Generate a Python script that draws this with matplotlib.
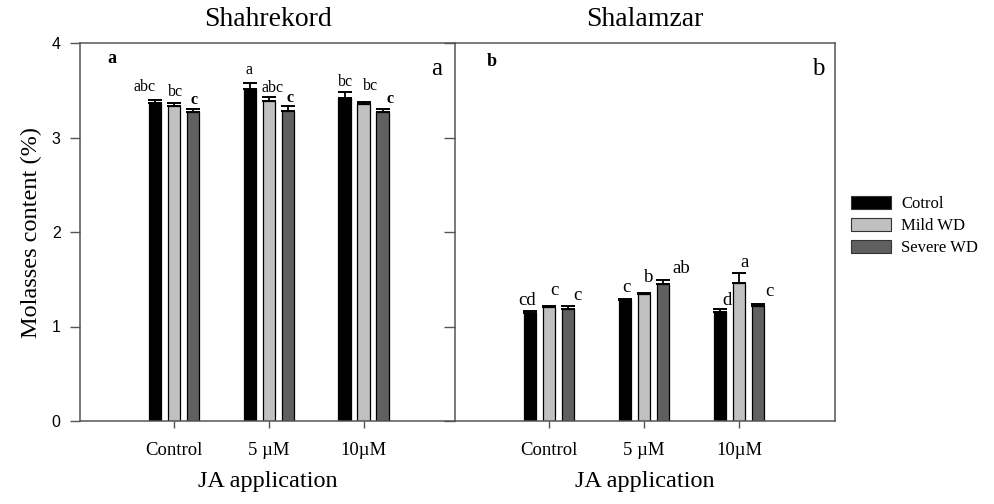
import matplotlib
matplotlib.use("Agg")
import matplotlib.pyplot as plt
from matplotlib.patches import Patch
import numpy as np

# ---- data ----
groups = ["Control", "5 µM", "10µM"]
series = ["Cotrol", "Mild WD", "Severe WD"]
sites = ["Shahrekord", "Shalamzar"]
panel_tags = ["a", "b"]

shahrekord_vals = {
    "Cotrol":    [3.37, 3.51, 3.42],
    "Mild WD":   [3.33, 3.39, 3.35],
    "Severe WD": [3.27, 3.28, 3.27],
}
shahrekord_err = {
    "Cotrol":    [0.03, 0.07, 0.06],
    "Mild WD":   [0.04, 0.04, 0.03],
    "Severe WD": [0.03, 0.05, 0.03],
}
shahrekord_letters = {
    "Cotrol":    ["abc", "a", "bc"],
    "Mild WD":   ["bc", "abc", "bc"],
    "Severe WD": ["c", "c", "c"],
}

shalamzar_vals = {
    "Cotrol":    [1.14, 1.28, 1.15],
    "Mild WD":   [1.21, 1.34, 1.46],
    "Severe WD": [1.19, 1.45, 1.22],
}
shalamzar_err = {
    "Cotrol":    [0.02, 0.015, 0.03],
    "Mild WD":   [0.005, 0.015, 0.11],
    "Severe WD": [0.03, 0.04, 0.02],
}
shalamzar_letters = {
    "Cotrol":    ["cd", "c", "d"],
    "Mild WD":   ["c", "b", "a"],
    "Severe WD": ["c", "ab", "c"],
}

yticks = [0, 1, 2, 3, 4]

# ---- style ----
colors = {"Cotrol": "#000000", "Mild WD": "#c0c0c0", "Severe WD": "#606060"}
spine_col = "#555555"
serif = "Liberation Serif"
sans = "Liberation Sans"

# letter label offsets in pixels (dx, dy above error cap), per panel/series/group
letter_off = [
    {"Cotrol": [(-10, 9), (-1, 9), (1, 6)],
     "Mild WD": [(2, 7), (4, 5), (7, 12)],
     "Severe WD": [(1, 5), (2, 4), (7, 6)]},
    {"Cotrol": [(-3, 6), (1, 7), (7, 4)],
     "Mild WD": [(5, 11), (5, 11), (6, 6)],
     "Severe WD": [(9, 6), (18, 7), (11, 8)]},
]
letter_size = [11.5, 13.5]
letter_bold = [True, False]

W, H = 995, 504
fig = plt.figure(figsize=(W / 100, H / 100), dpi=100)
ax1 = fig.add_axes([80 / W, (H - 421) / H, 375 / W, 378 / H])
ax2 = fig.add_axes([455 / W, (H - 421) / H, 380 / W, 378 / H])

data = [(shahrekord_vals, shahrekord_err, shahrekord_letters),
        (shalamzar_vals, shalamzar_err, shalamzar_letters)]
xlims = [(0.01, 3.96), (0.01, 4.01)]
offsets = [-0.2, 0.0, 0.2]
bw = 0.135
xpos = np.arange(1, len(groups) + 1)

for p, ax in enumerate([ax1, ax2]):
    vals, errs, letters = data[p]
    for i, s in enumerate(series):
        x = xpos + offsets[i]
        v = np.array(vals[s])
        e = np.array(errs[s])
        ax.bar(x, v, width=bw, color=colors[s], edgecolor="black", linewidth=0.9,
               yerr=[np.zeros_like(e), e], zorder=2,
               error_kw=dict(ecolor="black", elinewidth=1.3, capsize=5, capthick=1.4))
        for j in range(len(groups)):
            dx, dy = letter_off[p][s][j]
            lab = letters[s][j]
            bold = letter_bold[p] and lab == "c"
            ax.annotate(lab, (x[j], v[j] + e[j]), xytext=(dx, dy),
                        textcoords="offset pixels", ha="center", va="baseline",
                        fontsize=letter_size[p], family=serif,
                        fontweight="bold" if bold else "normal")
    ax.set_xlim(*xlims[p])
    ax.set_ylim(0, 4)
    ax.set_xticks(xpos)
    ax.set_xticklabels(groups, family=serif, fontsize=13.5)
    ax.tick_params(axis="x", length=5, width=1, color=spine_col, pad=10, direction="out")
    ax.set_xlabel("JA application", family=serif, fontsize=17.5, labelpad=9)
    ax.set_title(sites[p], family=serif, fontsize=20, pad=12)
    for sp in ax.spines.values():
        sp.set_color(spine_col)
        sp.set_linewidth(1.1)
    # panel tags
    ax.text(0.084 if p == 0 else 0.097, 0.948 if p == 0 else 0.94, panel_tags[p],
            transform=ax.transAxes, family=serif, fontsize=13, fontweight="bold",
            ha="center", va="baseline")
    ax.text(0.952 if p == 0 else 0.955, 0.915, panel_tags[p],
            transform=ax.transAxes, family=serif, fontsize=18,
            ha="center", va="baseline")

ax1.spines["right"].set_visible(False)
ax1.set_yticks(yticks)
ax1.set_yticklabels([str(t) for t in yticks], family=sans, fontsize=11.5)
ax1.tick_params(axis="y", length=7, width=1, color=spine_col, pad=7, direction="out")
ax1.set_ylabel("Molasses content (%)", family=serif, fontsize=17.5, labelpad=7)

ax2.set_yticks(yticks)
ax2.set_yticklabels([])
ax2.tick_params(axis="y", length=8, width=1, color=spine_col, direction="out")

handles = [Patch(facecolor=colors[s], edgecolor="#333333", linewidth=0.8) for s in series]
fig.legend(handles, series, loc="upper left", bbox_to_anchor=(851 / W, 1 - 196 / H),
           frameon=False, prop={"family": serif, "size": 12},
           handlelength=2.4, handleheight=0.8, handletextpad=0.6,
           labelspacing=0.35, borderpad=0, borderaxespad=0)

fig.savefig("out.png", dpi=100)
